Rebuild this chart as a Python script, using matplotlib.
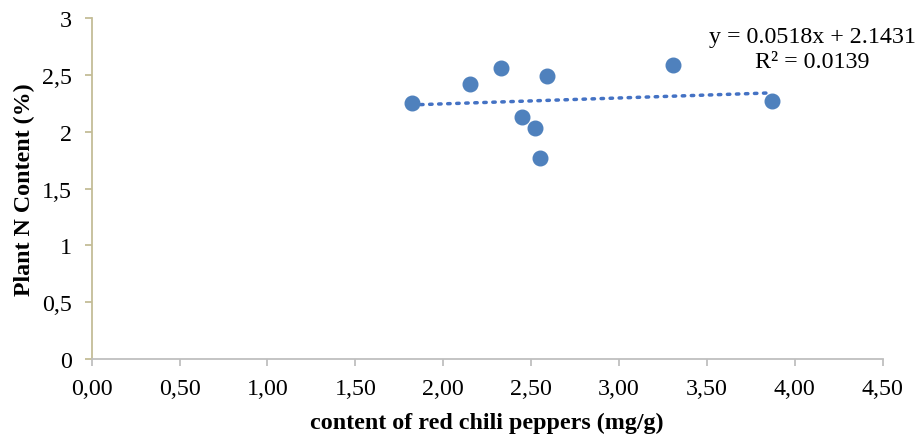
import matplotlib.pyplot as plt
import numpy as np

# Dados
chili = [1.82, 2.15, 2.33, 2.59, 2.45, 2.52, 2.55, 3.31, 3.87]
plant_n = [2.25, 2.42, 2.56, 2.49, 2.13, 2.03, 1.77, 2.59, 2.27]

# Linha de tendencia (do rotulo)
slope = 0.0518
intercept = 2.1431
r2 = 0.0139

x_ticks = [0, 0.5, 1, 1.5, 2, 2.5, 3, 3.5, 4, 4.5]
x_labels = ["0,00", "0,50", "1,00", "1,50", "2,00", "2,50", "3,00", "3,50", "4,00", "4,50"]
y_ticks = [0, 0.5, 1, 1.5, 2, 2.5, 3]
y_labels = ["0", "0,5", "1", "1,5", "2", "2,5", "3"]

plt.rcParams['font.family'] = ['Liberation Serif', 'DejaVu Serif']
fs = 17.3

fig = plt.figure(figsize=(9.16, 4.39), dpi=100)
ax = fig.add_axes([0.1001, 0.18, 0.8635, 0.776])

blue = "#4F81BD"
ax.plot(chili, plant_n, "o", color=blue, ms=10.5, zorder=3, clip_on=False)

xt = np.array([min(chili), max(chili)])
ax.plot(xt, slope*xt + intercept, linestyle=(0, (0.7, 1.9)), dash_capstyle="round",
        color="#4472C4", lw=2.5, zorder=2)

ax.set_xlim(0, 4.5)
ax.set_ylim(0, 3)
ax.set_xticks(x_ticks)
ax.set_xticklabels(x_labels)
ax.set_yticks(y_ticks)
ax.set_yticklabels(y_labels)
ax.tick_params(axis="x", labelsize=fs, length=5, color="#BFBFBF", width=1.3, pad=9)
ax.tick_params(axis="y", labelsize=fs, length=5, color="#C4BD97", width=1.3, pad=9.5)

for s in ["top", "right"]:
    ax.spines[s].set_visible(False)
ax.spines["bottom"].set_color("#BFBFBF")
ax.spines["bottom"].set_linewidth(1.3)
ax.spines["left"].set_color("#C4BD97")
ax.spines["left"].set_linewidth(1.3)

ax.set_xlabel("content of red chili peppers (mg/g)", fontsize=fs, fontweight="bold", labelpad=9)
ax.set_ylabel("Plant N Content (%)", fontsize=fs, fontweight="bold", labelpad=5)

ax.text(812/916, 1 - 38/439, "y = %.4fx + %.4f" % (slope, intercept), transform=fig.transFigure,
        ha="center", va="center", fontsize=fs)
ax.text(812/916, 1 - 62/439, "R\u00b2 = %.4f" % r2, transform=fig.transFigure,
        ha="center", va="center", fontsize=fs)

fig.savefig("out.png", dpi=100)
